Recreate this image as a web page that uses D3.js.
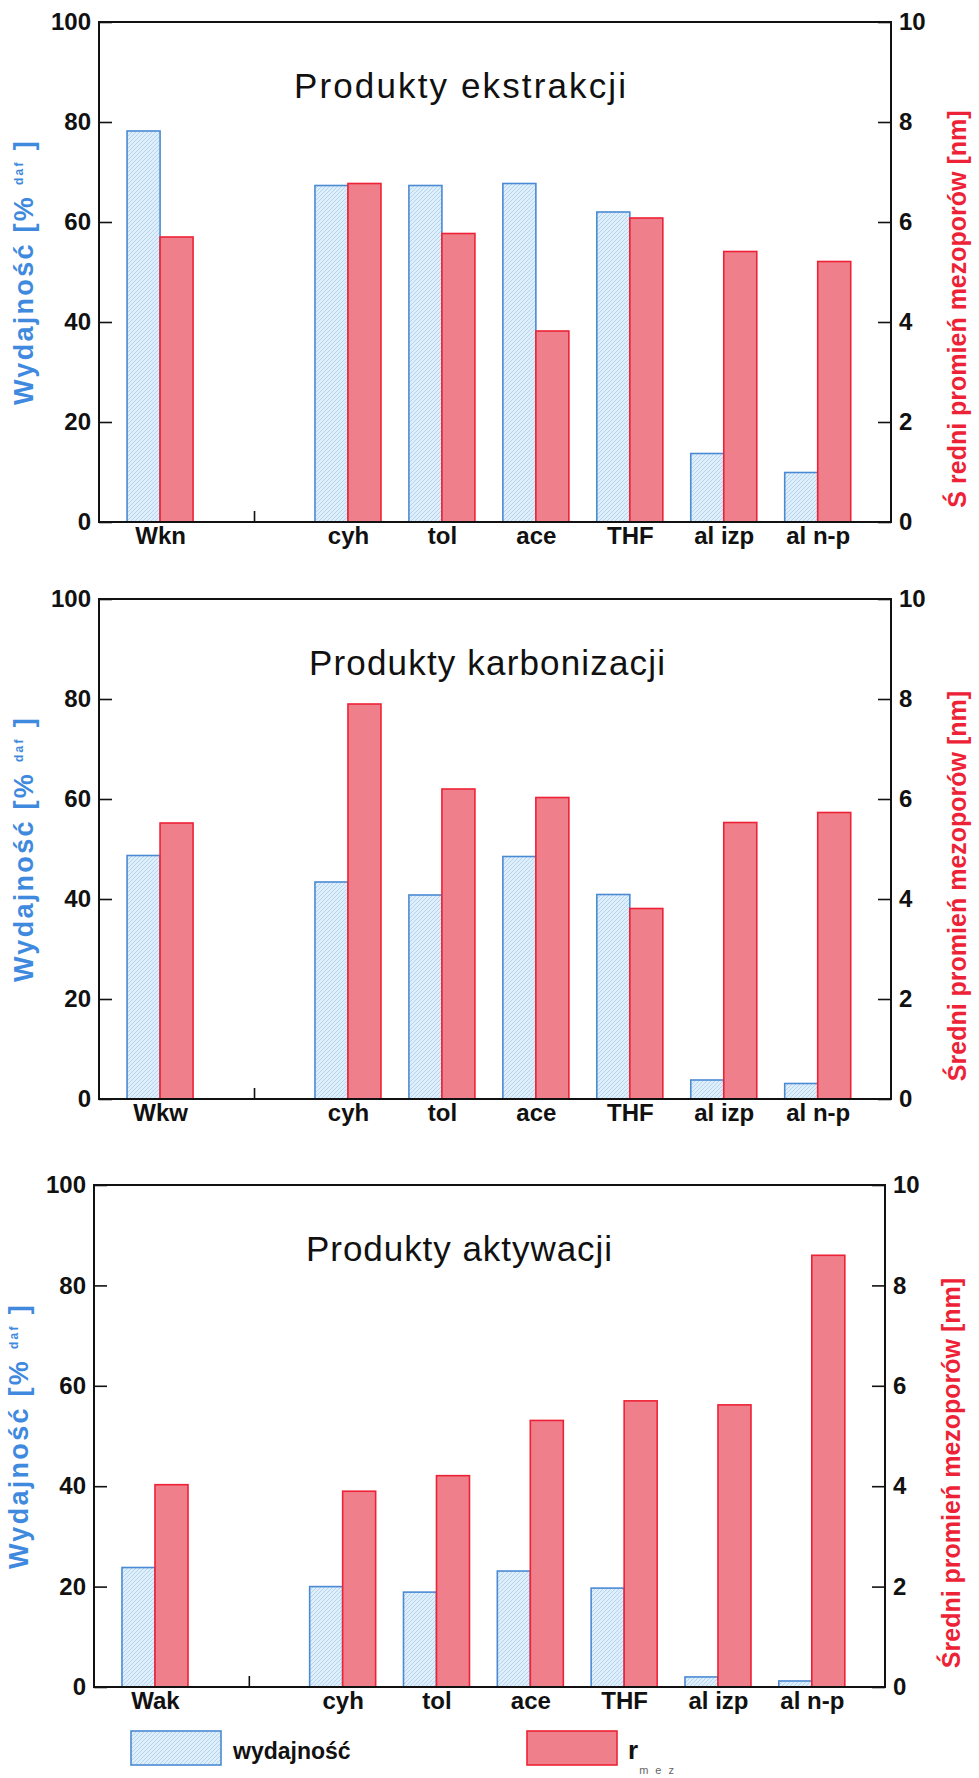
<!DOCTYPE html>
<html>
<head>
<meta charset="utf-8">
<script src="https://cdn.jsdelivr.net/npm/d3@7/dist/d3.min.js"></script>
<style>
  body { margin: 0; background: #fff; }
  svg { display: block; }
  .tick text { font-family: "Liberation Sans", Arial, sans-serif; font-weight: bold; font-size: 24px; fill: #111; }
</style>
</head>
<body>
<script>
// Sample labels: the parent material of each stage, then the extraction solvents
const baseLabels = ["Wkn", "Wkw", "Wak"];
const solvents = ["cyh", "tol", "ace", "THF", "al izp", "al n-p"];
const panelTitles = ["Produkty ekstrakcji", "Produkty karbonizacji", "Produkty aktywacji"];
const radiusTitles = ["Ś redni promień mezoporów [nm]", "Średni promień mezoporów [nm]", "Średni promień mezoporów [nm]"];
const yieldTicks = [0, 20, 40, 60, 80, 100];
const radiusTicks = [0, 2, 4, 6, 8, 10];

// Yield [% daf] (left axis), order: base material, cyh, tol, ace, THF, al izp, al n-p
const yieldExtraction = [78.2, 67.3, 67.3, 67.7, 62.0, 13.7, 9.9];
const yieldCarbonization = [48.7, 43.4, 40.8, 48.5, 40.9, 3.8, 3.1];
const yieldActivation = [23.8, 20.0, 18.9, 23.1, 19.7, 2.0, 1.2];

// Mean mesopore radius [nm] (right axis)
const radiusExtraction = [5.70, 6.77, 5.77, 3.82, 6.08, 5.41, 5.21];
const radiusCarbonization = [5.52, 7.90, 6.20, 6.03, 3.81, 5.53, 5.73];
const radiusActivation = [4.03, 3.90, 4.21, 5.31, 5.70, 5.62, 8.60];

const yieldSeries = [yieldExtraction, yieldCarbonization, yieldActivation];
const radiusSeries = [radiusExtraction, radiusCarbonization, radiusActivation];

const W = 979, H = 1778;
const BLUE = "#4a8ad4", BLUE_TEXT = "#3f8ade", RED = "#ee2236", RED_FILL = "#ef7f8a";

const svg = d3.select("body").append("svg").attr("width", W).attr("height", H);
svg.append("rect").attr("width", W).attr("height", H).attr("fill", "#fff");

// light blue speckled hatch used for the yield bars
const defs = svg.append("defs");
const pat = defs.append("pattern").attr("id", "hatch").attr("patternUnits", "userSpaceOnUse")
  .attr("width", 4).attr("height", 4);
pat.append("rect").attr("width", 4).attr("height", 4).attr("fill", "#deeefa");
pat.append("path").attr("d", "M0,4 L4,0 M-1,1 L1,-1 M3,5 L5,3").attr("stroke", "#b0d3ee").attr("stroke-width", 0.9);

// frame of each panel
const panels = [
  { left: 99, right: 891, top: 22, bottom: 522, titleX: 460, titleW: 332 },
  { left: 99, right: 891, top: 599, bottom: 1099, titleX: 487, titleW: 356 },
  { left: 94, right: 885, top: 1185, bottom: 1687, titleX: 459, titleW: 306 }
];

const bw = 33;

panels.forEach((p, k) => {
  const g = svg.append("g");
  const labels = [baseLabels[k], ""].concat(solvents);
  const slots = [0, 2, 3, 4, 5, 6, 7];

  const x = d3.scaleLinear().domain([-0.65, 7.78]).range([p.left, p.right]);
  const yL = d3.scaleLinear().domain([0, 100]).range([p.bottom, p.top]);
  const yR = d3.scaleLinear().domain([0, 10]).range([p.bottom, p.top]);

  // axes (ticks point inward)
  const ax = g.append("g").attr("transform", `translate(${p.left},0)`)
    .call(d3.axisLeft(yL).tickValues(yieldTicks).tickSize(-13).tickPadding(8));
  const axR = g.append("g").attr("transform", `translate(${p.right},0)`)
    .call(d3.axisRight(yR).tickValues(radiusTicks).tickSize(-13).tickPadding(8));
  const axB = g.append("g").attr("transform", `translate(0,${p.bottom})`)
    .call(d3.axisBottom(x).tickValues(d3.range(8)).tickSize(-11).tickPadding(5)
      .tickFormat(i => labels[i]));
  [ax, axR, axB].forEach(a => {
    a.select(".domain").remove();
    a.selectAll(".tick line").attr("stroke", "#111").attr("stroke-width", 1.6);
  });

  // yield bars
  g.selectAll(".yb").data(yieldSeries[k]).join("rect")
    .attr("x", (d, i) => x(slots[i]) - bw)
    .attr("y", d => yL(d))
    .attr("width", bw)
    .attr("height", d => yL(0) - yL(d))
    .attr("fill", "url(#hatch)")
    .attr("stroke", BLUE).attr("stroke-width", 1.6);

  // radius bars
  g.selectAll(".rb").data(radiusSeries[k]).join("rect")
    .attr("x", (d, i) => x(slots[i]))
    .attr("y", d => yR(d))
    .attr("width", bw)
    .attr("height", d => yR(0) - yR(d))
    .attr("fill", RED_FILL)
    .attr("stroke", RED).attr("stroke-width", 1.6);

  // plot frame
  g.append("rect").attr("x", p.left).attr("y", p.top)
    .attr("width", p.right - p.left).attr("height", p.bottom - p.top)
    .attr("fill", "none").attr("stroke", "#111").attr("stroke-width", 2);

  // panel title
  g.append("text").attr("x", p.titleX).attr("y", p.top + 76)
    .attr("text-anchor", "middle")
    .attr("textLength", p.titleW).attr("lengthAdjust", "spacing")
    .style("font-family", "'Liberation Sans', Arial, sans-serif")
    .style("font-size", "35px").attr("fill", "#111")
    .text(panelTitles[k]);

  // left axis title
  const cy = (p.top + p.bottom) / 2;
  const lt = g.append("text")
    .attr("transform", `translate(${p.left - 66},${cy}) rotate(-90)`)
    .attr("text-anchor", "middle")
    .style("font-family", "'Liberation Sans', Arial, sans-serif")
    .style("letter-spacing", "2.3px")
    .style("font-weight", "bold").style("font-size", "27px").attr("fill", BLUE_TEXT);
  lt.append("tspan").text("Wydajność [% ");
  lt.append("tspan").attr("dy", -10).style("font-size", "12px").text("daf");
  lt.append("tspan").attr("dy", 10).text(" ]");

  // right axis title
  g.append("text")
    .attr("transform", `translate(${p.right + 75},${cy + 37}) rotate(-90)`)
    .attr("text-anchor", "middle")
    .style("font-family", "'Liberation Sans', Arial, sans-serif")
    .style("font-weight", "bold").style("font-size", "25px").attr("fill", RED)
    .text(radiusTitles[k]);
});

// legend
const lg = svg.append("g").style("font-family", "'Liberation Sans', Arial, sans-serif");
lg.append("rect").attr("x", 131).attr("y", 1731).attr("width", 90).attr("height", 34)
  .attr("fill", "url(#hatch)").attr("stroke", BLUE).attr("stroke-width", 1.6);
lg.append("text").attr("x", 233).attr("y", 1759).style("font-weight", "bold")
  .style("font-size", "23px").attr("fill", "#111").text("wydajność");
lg.append("rect").attr("x", 527).attr("y", 1731).attr("width", 90).attr("height", 34)
  .attr("fill", RED_FILL).attr("stroke", RED).attr("stroke-width", 1.6);
const rt = lg.append("text").attr("x", 628).attr("y", 1759).attr("fill", "#111");
rt.append("tspan").style("font-weight", "bold").style("font-size", "26px").text("r");
rt.append("tspan").attr("dy", 15).attr("dx", 1).style("font-size", "11px")
  .style("letter-spacing", "2px").attr("fill", "#666").text("m e z");
</script>
</body>
</html>
